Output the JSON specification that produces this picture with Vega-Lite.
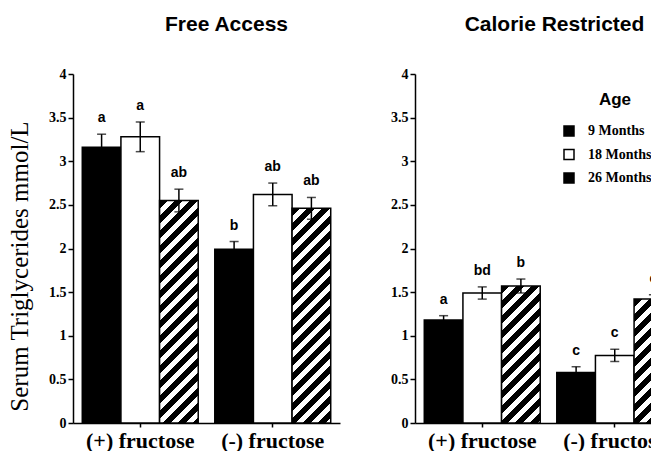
{
  "$schema": "https://vega.github.io/schema/vega-lite/v6.json",
  "padding": {"left": 7, "top": 14, "right": -31, "bottom": 0},
  "background": "white",
  "config": {
    "view": {"stroke": null},
    "font": "Liberation Serif",
    "axis": {"domainColor": "#000", "tickColor": "#000", "labelColor": "#000", "titleColor": "#000", "labelFont": "Liberation Serif", "labelFontWeight": "bold", "domainWidth": 1.5, "tickWidth": 1.5, "grid": false},
    "title": {"font": "Liberation Sans", "fontSize": 21, "fontWeight": "bold", "color": "#000", "anchor": "middle", "baseline": "bottom", "offset": 32}
  },
  "datasets": {
    "tg": [
      {"diet": "Free Access", "fructose": "(+) fructose", "age": "9 Months", "mean": 3.16, "lo": 3.01, "hi": 3.31, "letter": "a"},
      {"diet": "Free Access", "fructose": "(+) fructose", "age": "18 Months", "mean": 3.28, "lo": 3.11, "hi": 3.45, "letter": "a"},
      {"diet": "Free Access", "fructose": "(+) fructose", "age": "26 Months", "mean": 2.55, "lo": 2.42, "hi": 2.68, "letter": "ab"},
      {"diet": "Free Access", "fructose": "(-) fructose", "age": "9 Months", "mean": 1.99, "lo": 1.9, "hi": 2.08, "letter": "b"},
      {"diet": "Free Access", "fructose": "(-) fructose", "age": "18 Months", "mean": 2.62, "lo": 2.49, "hi": 2.75, "letter": "ab"},
      {"diet": "Free Access", "fructose": "(-) fructose", "age": "26 Months", "mean": 2.46, "lo": 2.335, "hi": 2.585, "letter": "ab"},
      {"diet": "Calorie Restricted", "fructose": "(+) fructose", "age": "9 Months", "mean": 1.18, "lo": 1.13, "hi": 1.23, "letter": "a"},
      {"diet": "Calorie Restricted", "fructose": "(+) fructose", "age": "18 Months", "mean": 1.49, "lo": 1.42, "hi": 1.56, "letter": "bd"},
      {"diet": "Calorie Restricted", "fructose": "(+) fructose", "age": "26 Months", "mean": 1.57, "lo": 1.49, "hi": 1.65, "letter": "b"},
      {"diet": "Calorie Restricted", "fructose": "(-) fructose", "age": "9 Months", "mean": 0.58, "lo": 0.52, "hi": 0.645, "letter": "c"},
      {"diet": "Calorie Restricted", "fructose": "(-) fructose", "age": "18 Months", "mean": 0.775, "lo": 0.705, "hi": 0.845, "letter": "c"},
      {"diet": "Calorie Restricted", "fructose": "(-) fructose", "age": "26 Months", "mean": 1.42, "lo": 1.37, "hi": 1.47, "letter": "c"}
    ]
  },
  "spacing": 50,
  "resolve": {"scale": {"fill": "independent"}, "legend": {"fill": "independent"}},
  "hconcat": [
    {
      "width": 267,
      "height": 349,
      "title": {"text": "Free Access", "dx": 20},
      "data": {"name": "tg"},
      "transform": [{"filter": "datum.diet === 'Free Access'"}],
      "encoding": {
        "x": {"field": "fructose", "type": "nominal", "sort": ["(+) fructose", "(-) fructose"], "scale": {"paddingInner": 0.125, "paddingOuter": 0.07}, "axis": {"title": null, "labelAngle": 0, "labelFontSize": 22, "tickSize": 4, "labelPadding": 3}},
        "xOffset": {"field": "age", "type": "nominal", "sort": ["9 Months", "18 Months", "26 Months"], "scale": {"paddingInner": 0, "paddingOuter": 0}}
      },
      "layer": [
        {
          "mark": {"type": "bar", "stroke": "#000", "strokeWidth": 1.5},
          "encoding": {
            "y": {"field": "mean", "type": "quantitative", "scale": {"domain": [0, 4], "nice": false}, "axis": {"values": [0, 0.5, 1, 1.5, 2, 2.5, 3, 3.5, 4], "format": "~g", "labelFontSize": 14, "tickSize": 5, "labelPadding": 2, "title": "Serum Triglycerides mmol/L", "titleFont": "Liberation Serif", "titleFontWeight": "normal", "titleFontSize": 25, "titlePadding": 16, "titleY": 192}},
            "fill": {
              "condition": [
                {"test": "datum.age === '26 Months' && datum.fructose === '(+) fructose'", "value": {"gradient": "linear", "x1": 0, "y1": 0, "x2": 0.20457, "y2": 1.17797, "stops": [{"offset":0,"color":"#000"},{"offset":0.0306,"color":"#000"},{"offset":0.0306,"color":"#fff"},{"offset":0.0556,"color":"#fff"},{"offset":0.0556,"color":"#000"},{"offset":0.0861,"color":"#000"},{"offset":0.0861,"color":"#fff"},{"offset":0.1111,"color":"#fff"},{"offset":0.1111,"color":"#000"},{"offset":0.1417,"color":"#000"},{"offset":0.1417,"color":"#fff"},{"offset":0.1667,"color":"#fff"},{"offset":0.1667,"color":"#000"},{"offset":0.1972,"color":"#000"},{"offset":0.1972,"color":"#fff"},{"offset":0.2222,"color":"#fff"},{"offset":0.2222,"color":"#000"},{"offset":0.2528,"color":"#000"},{"offset":0.2528,"color":"#fff"},{"offset":0.2778,"color":"#fff"},{"offset":0.2778,"color":"#000"},{"offset":0.3083,"color":"#000"},{"offset":0.3083,"color":"#fff"},{"offset":0.3333,"color":"#fff"},{"offset":0.3333,"color":"#000"},{"offset":0.3639,"color":"#000"},{"offset":0.3639,"color":"#fff"},{"offset":0.3889,"color":"#fff"},{"offset":0.3889,"color":"#000"},{"offset":0.4194,"color":"#000"},{"offset":0.4194,"color":"#fff"},{"offset":0.4444,"color":"#fff"},{"offset":0.4444,"color":"#000"},{"offset":0.475,"color":"#000"},{"offset":0.475,"color":"#fff"},{"offset":0.5,"color":"#fff"},{"offset":0.5,"color":"#000"},{"offset":0.5306,"color":"#000"},{"offset":0.5306,"color":"#fff"},{"offset":0.5556,"color":"#fff"},{"offset":0.5556,"color":"#000"},{"offset":0.5861,"color":"#000"},{"offset":0.5861,"color":"#fff"},{"offset":0.6111,"color":"#fff"},{"offset":0.6111,"color":"#000"},{"offset":0.6417,"color":"#000"},{"offset":0.6417,"color":"#fff"},{"offset":0.6667,"color":"#fff"},{"offset":0.6667,"color":"#000"},{"offset":0.6972,"color":"#000"},{"offset":0.6972,"color":"#fff"},{"offset":0.7222,"color":"#fff"},{"offset":0.7222,"color":"#000"},{"offset":0.7528,"color":"#000"},{"offset":0.7528,"color":"#fff"},{"offset":0.7778,"color":"#fff"},{"offset":0.7778,"color":"#000"},{"offset":0.8083,"color":"#000"},{"offset":0.8083,"color":"#fff"},{"offset":0.8333,"color":"#fff"},{"offset":0.8333,"color":"#000"},{"offset":0.8639,"color":"#000"},{"offset":0.8639,"color":"#fff"},{"offset":0.8889,"color":"#fff"},{"offset":0.8889,"color":"#000"},{"offset":0.9194,"color":"#000"},{"offset":0.9194,"color":"#fff"},{"offset":0.9444,"color":"#fff"},{"offset":0.9444,"color":"#000"},{"offset":0.975,"color":"#000"},{"offset":0.975,"color":"#fff"},{"offset":1,"color":"#fff"}]}},
                {"test": "datum.age === '26 Months' && datum.fructose === '(-) fructose'", "value": {"gradient": "linear", "x1": 0, "y1": 0, "x2": 0.21935, "y2": 1.21845, "stops": [{"offset":0,"color":"#000"},{"offset":0.0306,"color":"#000"},{"offset":0.0306,"color":"#fff"},{"offset":0.0556,"color":"#fff"},{"offset":0.0556,"color":"#000"},{"offset":0.0861,"color":"#000"},{"offset":0.0861,"color":"#fff"},{"offset":0.1111,"color":"#fff"},{"offset":0.1111,"color":"#000"},{"offset":0.1417,"color":"#000"},{"offset":0.1417,"color":"#fff"},{"offset":0.1667,"color":"#fff"},{"offset":0.1667,"color":"#000"},{"offset":0.1972,"color":"#000"},{"offset":0.1972,"color":"#fff"},{"offset":0.2222,"color":"#fff"},{"offset":0.2222,"color":"#000"},{"offset":0.2528,"color":"#000"},{"offset":0.2528,"color":"#fff"},{"offset":0.2778,"color":"#fff"},{"offset":0.2778,"color":"#000"},{"offset":0.3083,"color":"#000"},{"offset":0.3083,"color":"#fff"},{"offset":0.3333,"color":"#fff"},{"offset":0.3333,"color":"#000"},{"offset":0.3639,"color":"#000"},{"offset":0.3639,"color":"#fff"},{"offset":0.3889,"color":"#fff"},{"offset":0.3889,"color":"#000"},{"offset":0.4194,"color":"#000"},{"offset":0.4194,"color":"#fff"},{"offset":0.4444,"color":"#fff"},{"offset":0.4444,"color":"#000"},{"offset":0.475,"color":"#000"},{"offset":0.475,"color":"#fff"},{"offset":0.5,"color":"#fff"},{"offset":0.5,"color":"#000"},{"offset":0.5306,"color":"#000"},{"offset":0.5306,"color":"#fff"},{"offset":0.5556,"color":"#fff"},{"offset":0.5556,"color":"#000"},{"offset":0.5861,"color":"#000"},{"offset":0.5861,"color":"#fff"},{"offset":0.6111,"color":"#fff"},{"offset":0.6111,"color":"#000"},{"offset":0.6417,"color":"#000"},{"offset":0.6417,"color":"#fff"},{"offset":0.6667,"color":"#fff"},{"offset":0.6667,"color":"#000"},{"offset":0.6972,"color":"#000"},{"offset":0.6972,"color":"#fff"},{"offset":0.7222,"color":"#fff"},{"offset":0.7222,"color":"#000"},{"offset":0.7528,"color":"#000"},{"offset":0.7528,"color":"#fff"},{"offset":0.7778,"color":"#fff"},{"offset":0.7778,"color":"#000"},{"offset":0.8083,"color":"#000"},{"offset":0.8083,"color":"#fff"},{"offset":0.8333,"color":"#fff"},{"offset":0.8333,"color":"#000"},{"offset":0.8639,"color":"#000"},{"offset":0.8639,"color":"#fff"},{"offset":0.8889,"color":"#fff"},{"offset":0.8889,"color":"#000"},{"offset":0.9194,"color":"#000"},{"offset":0.9194,"color":"#fff"},{"offset":0.9444,"color":"#fff"},{"offset":0.9444,"color":"#000"},{"offset":0.975,"color":"#000"},{"offset":0.975,"color":"#fff"},{"offset":1,"color":"#fff"}]}}
              ],
              "field": "age", "type": "nominal", "sort": ["9 Months", "18 Months", "26 Months"],
              "scale": {"domain": ["9 Months", "18 Months", "26 Months"], "range": ["#000000", "#ffffff", "#000000"]},
              "legend": null
            }
          }
        },
        {
          "mark": {"type": "rule", "color": "#000", "strokeWidth": 1.5},
          "encoding": {"y": {"field": "lo", "type": "quantitative"}, "y2": {"field": "hi"}}
        },
        {
          "mark": {"type": "tick", "color": "#000", "thickness": 1.5, "size": 9},
          "encoding": {"y": {"field": "hi", "type": "quantitative"}}
        },
        {
          "mark": {"type": "tick", "color": "#000", "thickness": 1.5, "size": 9},
          "encoding": {"y": {"field": "lo", "type": "quantitative"}}
        },
        {
          "mark": {"type": "text", "font": "Liberation Sans", "fontWeight": "bold", "fontSize": 14, "color": "#000", "baseline": "alphabetic", "dy": -12},
          "encoding": {"y": {"field": "hi", "type": "quantitative"}, "text": {"field": "letter"}}
        }
      ]
    },
    {
      "width": 267,
      "height": 349,
      "title": {"text": "Calorie Restricted", "dx": 6},
      "data": {"name": "tg"},
      "transform": [{"filter": "datum.diet === 'Calorie Restricted'"}],
      "encoding": {
        "x": {"field": "fructose", "type": "nominal", "sort": ["(+) fructose", "(-) fructose"], "scale": {"paddingInner": 0.125, "paddingOuter": 0.07}, "axis": {"title": null, "labelAngle": 0, "labelFontSize": 22, "tickSize": 4, "labelPadding": 3}},
        "xOffset": {"field": "age", "type": "nominal", "sort": ["9 Months", "18 Months", "26 Months"], "scale": {"paddingInner": 0, "paddingOuter": 0}}
      },
      "layer": [
        {
          "mark": {"type": "bar", "stroke": "#000", "strokeWidth": 1.5},
          "encoding": {
            "y": {"field": "mean", "type": "quantitative", "scale": {"domain": [0, 4], "nice": false}, "axis": {"values": [0, 0.5, 1, 1.5, 2, 2.5, 3, 3.5, 4], "format": "~g", "labelFontSize": 14, "tickSize": 5, "labelPadding": 2, "title": null}},
            "fill": {
              "condition": [
                {"test": "datum.age === '26 Months' && datum.fructose === '(+) fructose'", "value": {"gradient": "linear", "x1": 0, "y1": 0, "x2": 0.51502, "y2": 1.82577, "stops": [{"offset":0,"color":"#000"},{"offset":0.0306,"color":"#000"},{"offset":0.0306,"color":"#fff"},{"offset":0.0556,"color":"#fff"},{"offset":0.0556,"color":"#000"},{"offset":0.0861,"color":"#000"},{"offset":0.0861,"color":"#fff"},{"offset":0.1111,"color":"#fff"},{"offset":0.1111,"color":"#000"},{"offset":0.1417,"color":"#000"},{"offset":0.1417,"color":"#fff"},{"offset":0.1667,"color":"#fff"},{"offset":0.1667,"color":"#000"},{"offset":0.1972,"color":"#000"},{"offset":0.1972,"color":"#fff"},{"offset":0.2222,"color":"#fff"},{"offset":0.2222,"color":"#000"},{"offset":0.2528,"color":"#000"},{"offset":0.2528,"color":"#fff"},{"offset":0.2778,"color":"#fff"},{"offset":0.2778,"color":"#000"},{"offset":0.3083,"color":"#000"},{"offset":0.3083,"color":"#fff"},{"offset":0.3333,"color":"#fff"},{"offset":0.3333,"color":"#000"},{"offset":0.3639,"color":"#000"},{"offset":0.3639,"color":"#fff"},{"offset":0.3889,"color":"#fff"},{"offset":0.3889,"color":"#000"},{"offset":0.4194,"color":"#000"},{"offset":0.4194,"color":"#fff"},{"offset":0.4444,"color":"#fff"},{"offset":0.4444,"color":"#000"},{"offset":0.475,"color":"#000"},{"offset":0.475,"color":"#fff"},{"offset":0.5,"color":"#fff"},{"offset":0.5,"color":"#000"},{"offset":0.5306,"color":"#000"},{"offset":0.5306,"color":"#fff"},{"offset":0.5556,"color":"#fff"},{"offset":0.5556,"color":"#000"},{"offset":0.5861,"color":"#000"},{"offset":0.5861,"color":"#fff"},{"offset":0.6111,"color":"#fff"},{"offset":0.6111,"color":"#000"},{"offset":0.6417,"color":"#000"},{"offset":0.6417,"color":"#fff"},{"offset":0.6667,"color":"#fff"}]}},
                {"test": "datum.age === '26 Months' && datum.fructose === '(-) fructose'", "value": {"gradient": "linear", "x1": 0, "y1": 0, "x2": 0.61938, "y2": 1.98605, "stops": [{"offset":0,"color":"#000"},{"offset":0.0306,"color":"#000"},{"offset":0.0306,"color":"#fff"},{"offset":0.0556,"color":"#fff"},{"offset":0.0556,"color":"#000"},{"offset":0.0861,"color":"#000"},{"offset":0.0861,"color":"#fff"},{"offset":0.1111,"color":"#fff"},{"offset":0.1111,"color":"#000"},{"offset":0.1417,"color":"#000"},{"offset":0.1417,"color":"#fff"},{"offset":0.1667,"color":"#fff"},{"offset":0.1667,"color":"#000"},{"offset":0.1972,"color":"#000"},{"offset":0.1972,"color":"#fff"},{"offset":0.2222,"color":"#fff"},{"offset":0.2222,"color":"#000"},{"offset":0.2528,"color":"#000"},{"offset":0.2528,"color":"#fff"},{"offset":0.2778,"color":"#fff"},{"offset":0.2778,"color":"#000"},{"offset":0.3083,"color":"#000"},{"offset":0.3083,"color":"#fff"},{"offset":0.3333,"color":"#fff"},{"offset":0.3333,"color":"#000"},{"offset":0.3639,"color":"#000"},{"offset":0.3639,"color":"#fff"},{"offset":0.3889,"color":"#fff"},{"offset":0.3889,"color":"#000"},{"offset":0.4194,"color":"#000"},{"offset":0.4194,"color":"#fff"},{"offset":0.4444,"color":"#fff"},{"offset":0.4444,"color":"#000"},{"offset":0.475,"color":"#000"},{"offset":0.475,"color":"#fff"},{"offset":0.5,"color":"#fff"},{"offset":0.5,"color":"#000"},{"offset":0.5306,"color":"#000"},{"offset":0.5306,"color":"#fff"},{"offset":0.5556,"color":"#fff"},{"offset":0.5556,"color":"#000"},{"offset":0.5861,"color":"#000"},{"offset":0.5861,"color":"#fff"},{"offset":0.6111,"color":"#fff"},{"offset":0.6111,"color":"#000"},{"offset":0.6417,"color":"#000"},{"offset":0.6417,"color":"#fff"},{"offset":0.6667,"color":"#fff"}]}}
              ],
              "field": "age", "type": "nominal", "sort": ["9 Months", "18 Months", "26 Months"],
              "scale": {"domain": ["9 Months", "18 Months", "26 Months"], "range": ["#000000", "#ffffff", "#000000"]},
              "legend": {
                "orient": "none", "legendX": 147, "legendY": 18,
                "title": "Age", "titleFont": "Liberation Sans", "titleFontSize": 17, "titleFontWeight": "bold", "titleColor": "#000", "titleAnchor": "middle", "titleAlign": "center", "titlePadding": 15,
                "symbolType": "square", "symbolSize": 100, "symbolStrokeColor": "#000", "symbolStrokeWidth": 1.5,
                "labelFont": "Liberation Serif", "labelFontWeight": "bold", "labelFontSize": 14, "labelColor": "#000", "labelOffset": 12, "rowPadding": 7.5, "labelLimit": 200,
                "encode": {
                  "title": {"update": {"dx": {"value": 8}}},
                  "symbols": {"update": {"fill": [
                    {"test": "datum.value === '9 Months'", "value": "#000"},
                    {"test": "datum.value === '18 Months'", "value": "#fff"},
                    {"value": {"gradient": "linear", "x1": 0, "y1": 0, "x2": 1, "y2": 1, "stops": [{"offset":0,"color":"#000"},{"offset":0.4,"color":"#000"},{"offset":0.4,"color":"#fff"},{"offset":0.62,"color":"#fff"},{"offset":0.62,"color":"#000"},{"offset":1,"color":"#000"}]}}
                  ], "stroke": {"value": "#000"}}}
                }
              }
            }
          }
        },
        {
          "mark": {"type": "rule", "color": "#000", "strokeWidth": 1.5},
          "encoding": {"y": {"field": "lo", "type": "quantitative"}, "y2": {"field": "hi"}}
        },
        {
          "mark": {"type": "tick", "color": "#000", "thickness": 1.5, "size": 9},
          "encoding": {"y": {"field": "hi", "type": "quantitative"}}
        },
        {
          "mark": {"type": "tick", "color": "#000", "thickness": 1.5, "size": 9},
          "encoding": {"y": {"field": "lo", "type": "quantitative"}}
        },
        {
          "mark": {"type": "text", "font": "Liberation Sans", "fontWeight": "bold", "fontSize": 14, "color": "#000", "baseline": "alphabetic", "dy": -12},
          "encoding": {"y": {"field": "hi", "type": "quantitative"}, "text": {"field": "letter"}}
        }
      ]
    }
  ]
}
